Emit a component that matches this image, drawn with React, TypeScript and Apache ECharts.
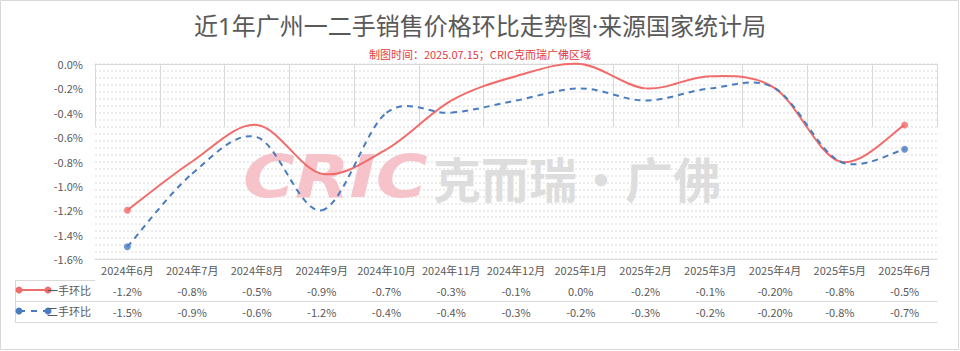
import React, { useEffect, useRef } from "react";
import * as echarts from "echarts";

const categories = [
  "2024年6月", "2024年7月", "2024年8月", "2024年9月", "2024年10月", "2024年11月",
  "2024年12月", "2025年1月", "2025年2月", "2025年3月", "2025年4月", "2025年5月", "2025年6月",
];
const newHome = [-1.2, -0.8, -0.5, -0.9, -0.7, -0.3, -0.1, 0.0, -0.2, -0.1, -0.2, -0.8, -0.5];
const secondHome = [-1.5, -0.9, -0.6, -1.2, -0.4, -0.4, -0.3, -0.2, -0.3, -0.2, -0.2, -0.8, -0.7];
const newHomeLabels = ["-1.2%", "-0.8%", "-0.5%", "-0.9%", "-0.7%", "-0.3%", "-0.1%", "0.0%", "-0.2%", "-0.1%", "-0.20%", "-0.8%", "-0.5%"];
const secondHomeLabels = ["-1.5%", "-0.9%", "-0.6%", "-1.2%", "-0.4%", "-0.4%", "-0.3%", "-0.2%", "-0.3%", "-0.2%", "-0.20%", "-0.8%", "-0.7%"];
const seriesNames = ["一手环比", "二手环比"];
const yMin = -1.6;
const yMax = 0;
const yStep = 0.2;

const FONT = '"Noto Sans CJK SC", "Noto Sans", sans-serif';
const TITLE_FONT = '"Noto Sans", "Noto Sans CJK SC", sans-serif';
const TXT = "#595959";
const BORDER = "#d9d9d9";
const RED = "#F26B6B";
const BLUE = "#4A7CC0";

// Excel-like (Catmull-Rom) smoothed line drawn through the axis scales
function smoothSeries(name: string, vals: number[], color: string, dash: number[] | null, z: number) {
  const n = vals.length;
  return {
    name,
    type: "custom",
    coordinateSystem: "cartesian2d",
    xAxisIndex: 0,
    yAxisIndex: 0,
    z,
    silent: true,
    data: vals.map((v, i) => [i, v]),
    encode: { x: 0, y: 1 },
    renderItem: (params: any, api: any) => {
      const i = params.dataIndex;
      if (i >= n - 1) return null;
      const p = (k: number) => {
        const c = Math.max(0, Math.min(n - 1, k));
        return api.coord([c, vals[c]]);
      };
      const p0 = p(i - 1), p1 = p(i), p2 = p(i + 1), p3 = p(i + 2);
      const t = 1 / 6;
      return {
        type: "bezierCurve",
        shape: {
          x1: p1[0], y1: p1[1],
          cpx1: p1[0] + (p2[0] - p0[0]) * t, cpy1: p1[1] + (p2[1] - p0[1]) * t,
          cpx2: p2[0] - (p3[0] - p1[0]) * t, cpy2: p2[1] - (p3[1] - p1[1]) * t,
          x2: p2[0], y2: p2[1],
        },
        style: { stroke: color, lineWidth: 2, fill: "none", lineDash: dash || undefined },
      };
    },
  };
}

export default function App() {
  const ref = useRef<HTMLDivElement>(null);
  useEffect(() => {
    document.body.style.margin = "0";
    const chart = echarts.init(ref.current!, null, { renderer: "svg" });
    const last = categories.length - 1;
    const ends = (vals: number[]) => vals.map((v, i) => (i === 0 || i === last ? v : "-"));
    const label = { color: TXT, fontSize: 11, fontFamily: FONT };
    const rowAxis = (offset: number, labels: string[] | null) => ({
      type: "category",
      data: categories,
      position: "bottom",
      offset,
      axisLine: { show: true, lineStyle: { color: BORDER, width: 1 } },
      axisTick: { show: false },
      axisLabel: labels
        ? { ...label, interval: 0, margin: 5, formatter: (_v: string, i: number) => labels[i] }
        : { show: false },
      splitLine: { show: false },
    });
    const legendY = [290, 311];
    chart.setOption({
      animation: false,
      backgroundColor: "#ffffff",
      title: [
        {
          text: "近1年广州一二手销售价格环比走势图·来源国家统计局",
          left: "center",
          top: 13,
          padding: 0,
          textStyle: { color: TXT, fontSize: 24, fontWeight: "normal", fontFamily: TITLE_FONT },
        },
        {
          text: "制图时间：2025.07.15；CRIC克而瑞广佛区域",
          left: "center",
          top: 48,
          padding: 0,
          textStyle: { color: "#E23B3B", fontSize: 11, fontWeight: "normal", fontFamily: FONT },
        },
      ],
      grid: { left: 95, right: 23, top: 64, bottom: 92, containLabel: false },
      xAxis: [
        {
          type: "category",
          data: categories,
          position: "bottom",
          boundaryGap: true,
          axisLine: { show: true, lineStyle: { color: BORDER, width: 1 } },
          axisTick: { show: true, interval: 0, length: 63, lineStyle: { color: BORDER } },
          axisLabel: { ...label, interval: 0, margin: 5 },
          splitLine: { show: false },
        },
        rowAxis(21, newHomeLabels),
        rowAxis(42, secondHomeLabels),
        rowAxis(63, null),
        {
          type: "category",
          data: categories,
          position: "top",
          axisLine: { show: true, lineStyle: { color: BORDER, width: 1 } },
          axisTick: { show: false },
          axisLabel: { show: false },
          splitLine: { show: false },
        },
      ],
      yAxis: [
        {
          type: "value",
          min: yMin,
          max: yMax,
          interval: yStep,
          axisLine: { show: false },
          axisTick: { show: false },
          splitLine: { show: false },
          axisLabel: { ...label, margin: 12, formatter: (v: number) => v.toFixed(1) + "%" },
        },
        {
          type: "value",
          min: 0,
          max: 28,
          interval: 1,
          position: "left",
          axisLine: { show: false },
          axisTick: { show: false },
          axisLabel: { show: false },
          splitLine: { show: true, lineStyle: { color: "#e6e6e6", width: 1.5, type: [2, 2] } },
        },
      ],
      graphic: [
        {
          type: "rect",
          shape: { x: 0.5, y: 0.5, width: 958, height: 349 },
          style: { fill: "none", stroke: BORDER, lineWidth: 1 },
          silent: true,
        },
        {
          type: "text",
          x: 243,
          y: 177,
          z: 1,
          scaleX: 1.22,
          style: {
            text: "CRIC",
            fill: "#f6c3ca",
            fontSize: 58,
            fontWeight: 900,
            fontStyle: "italic",
            fontFamily: '"DejaVu Sans", sans-serif',
            verticalAlign: "middle",
            align: "left",
          },
          silent: true,
        },
        {
          type: "text",
          x: 433,
          y: 177,
          z: 1,
          style: {
            text: "克而瑞·广佛",
            fill: "#dddddd",
            fontSize: 48,
            fontWeight: "bold",
            fontFamily: FONT,
            verticalAlign: "middle",
            align: "left",
          },
          silent: true,
        },
        { type: "line", shape: { x1: 15, y1: 280.5, x2: 95, y2: 280.5 }, style: { stroke: BORDER, lineWidth: 1 } },
        { type: "line", shape: { x1: 15, y1: 301.5, x2: 95, y2: 301.5 }, style: { stroke: BORDER, lineWidth: 1 } },
        { type: "line", shape: { x1: 15, y1: 322.5, x2: 95, y2: 322.5 }, style: { stroke: BORDER, lineWidth: 1 } },
        { type: "line", shape: { x1: 15.5, y1: 280.5, x2: 15.5, y2: 322.5 }, style: { stroke: BORDER, lineWidth: 1 } },
        { type: "line", shape: { x1: 19, y1: legendY[0], x2: 48, y2: legendY[0] }, style: { stroke: RED, lineWidth: 2 } },
        { type: "circle", shape: { cx: 19, cy: legendY[0], r: 3.5 }, style: { fill: RED } },
        { type: "circle", shape: { cx: 48, cy: legendY[0], r: 3.5 }, style: { fill: RED } },
        { type: "line", shape: { x1: 19, y1: legendY[1], x2: 48, y2: legendY[1] }, style: { stroke: BLUE, lineWidth: 2, lineDash: [6, 6] } },
        { type: "circle", shape: { cx: 19, cy: legendY[1], r: 3.5 }, style: { fill: BLUE } },
        { type: "circle", shape: { cx: 48, cy: legendY[1], r: 3.5 }, style: { fill: BLUE } },
        {
          type: "text",
          x: 91,
          y: legendY[0],
          style: { text: seriesNames[0], fill: TXT, fontSize: 11, fontFamily: FONT, align: "right", verticalAlign: "middle" },
        },
        {
          type: "text",
          x: 91,
          y: legendY[1],
          style: { text: seriesNames[1], fill: TXT, fontSize: 11, fontFamily: FONT, align: "right", verticalAlign: "middle" },
        },
      ],
      series: [
        smoothSeries(seriesNames[0], newHome, RED, null, 3),
        smoothSeries(seriesNames[1], secondHome, BLUE, [6, 5], 4),
        {
          name: seriesNames[0] + "端点",
          type: "scatter",
          xAxisIndex: 0,
          yAxisIndex: 0,
          data: ends(newHome),
          symbol: "circle",
          symbolSize: 7,
          z: 5,
          itemStyle: { color: RED },
        },
        {
          name: seriesNames[1] + "端点",
          type: "scatter",
          xAxisIndex: 0,
          yAxisIndex: 0,
          data: ends(secondHome),
          symbol: "circle",
          symbolSize: 7,
          z: 5,
          itemStyle: { color: BLUE },
        },
      ],
    });
    return () => chart.dispose();
  }, []);
  return <div ref={ref} style={{ width: 960, height: 351 }} />;
}
